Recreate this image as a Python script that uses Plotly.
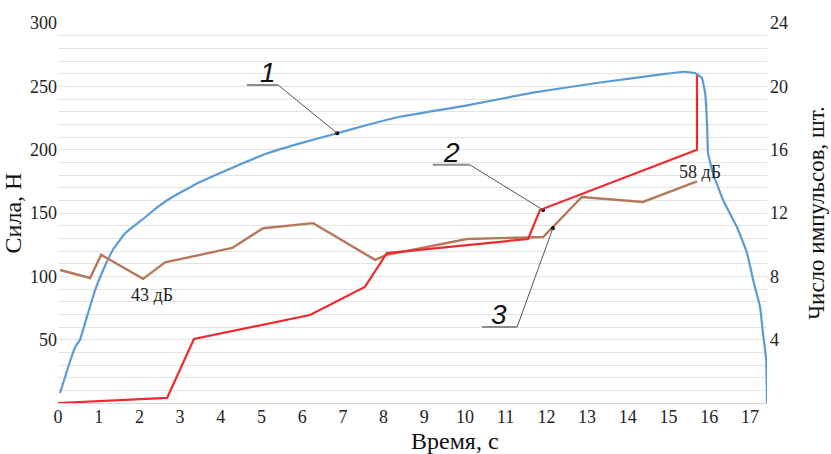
import plotly.graph_objects as go

# ---- data ----
force_t = [0.05, 0.25, 0.42, 0.54, 0.71, 0.91, 1.11, 1.35, 1.65, 2.06, 2.46, 2.83,
           3.49, 4.30, 5.13, 5.95, 6.86, 7.59, 8.40, 10.05, 11.67, 13.32, 14.96,
           15.36, 15.65, 15.82, 15.90, 15.95, 15.97, 16.09, 16.34, 16.68, 16.93,
           17.08, 17.25, 17.32, 17.40, 17.42]
force_n = [7.9, 28.4, 44, 50, 68, 89, 105, 121, 134, 144.5, 155, 163,
           174.5, 186, 197, 205, 213, 219.5, 226, 235, 245, 253, 260,
           261.5, 260.5, 256.6, 244.7, 217.9, 197.4, 181.6, 160.3, 139, 118.4,
           97.1, 75.8, 55.3, 34, 0]

pulses_t = [0.0, 2.68, 3.34, 6.19, 7.54, 8.08, 11.55, 11.84, 15.70, 15.70]
pulses_n = [0, 0.32, 4.04, 5.56, 7.33, 9.47, 10.36, 12.19, 16.0, 20.7]

ampl_t = [0.05, 0.79, 1.06, 2.09, 2.63, 4.28, 5.04, 6.27, 7.79, 8.08, 10.05,
          11.55, 11.92, 12.87, 14.37, 15.70]
ampl_v = [105, 98.7, 117, 98, 111, 122.4, 138, 142, 113, 117, 129.5,
          131, 131, 162.6, 158.7, 175]

x_ticks = list(range(0, 18))
left_ticks = [50, 100, 150, 200, 250, 300]
right_ticks = [4, 8, 12, 16, 20, 24]

# leader callouts: label, text pos, start of shelf, elbow, target point
callouts = [
    ("1", (5.16, 261.3), 4.64, (5.41, 251), (6.86, 213)),
    ("2", (9.66, 198), 9.21, (10.12, 188), (11.92, 152.4)),
    ("3", (10.84, 69.5), 10.42, (11.28, 60), (12.16, 138)),
]
db_labels = [("43 дБ", 2.31, 85.3), ("58 дБ", 15.77, 182.4)]

SERIF = "Liberation Serif, Times New Roman, serif"
GRID = "#e4e4e4"

fig = go.Figure()
fig.add_trace(go.Scatter(x=force_t, y=force_n, mode="lines",
                         line=dict(color="#5B9BD5", width=2.2, shape="spline", smoothing=0.3),
                         showlegend=False, hoverinfo="skip"))
fig.add_trace(go.Scatter(x=ampl_t, y=ampl_v, mode="lines",
                         line=dict(color="#B5785A", width=2.4),
                         showlegend=False, hoverinfo="skip"))
fig.add_trace(go.Scatter(x=pulses_t, y=pulses_n, mode="lines", yaxis="y2",
                         line=dict(color="#EE2A2E", width=2.2),
                         showlegend=False, hoverinfo="skip"))

annotations = []
shapes = []
for lab, (tx, ty), sx, (ex, ey), (px, py) in callouts:
    shapes.append(dict(type="line", xref="x", yref="y", x0=sx, y0=ey, x1=ex, y1=ey,
                       line=dict(color="#8c8c8c", width=2)))
    shapes.append(dict(type="line", xref="x", yref="y", x0=ex, y0=ey, x1=px, y1=py,
                       line=dict(color="#555555", width=1)))
    annotations.append(dict(x=tx, y=ty, xref="x", yref="y", text="<i>" + lab + "</i>",
                            showarrow=False,
                            font=dict(family="Liberation Sans, Arial", size=28, color="#111")))
fig.add_trace(go.Scatter(x=[c[4][0] for c in callouts], y=[c[4][1] for c in callouts],
                         mode="markers", marker=dict(color="#000", size=4),
                         showlegend=False, hoverinfo="skip"))

for txt, x, y in db_labels:
    annotations.append(dict(x=x, y=y, xref="x", yref="y", text=txt, showarrow=False,
                            font=dict(family=SERIF, size=18, color="#222")))

annotations.append(dict(x=0.56, y=0, xref="paper", yref="paper", yshift=-38,
                        text="Время, с", showarrow=False, yanchor="middle",
                        font=dict(family=SERIF, size=24, color="#111")))

fig.update_layout(
    width=831, height=454,
    margin=dict(l=58, r=64, t=23, b=51),
    paper_bgcolor="white", plot_bgcolor="white",
    showlegend=False,
    xaxis=dict(range=[0, 17.42], tickvals=x_ticks, showgrid=False, zeroline=False,
               showline=True, linecolor="#d6d6d6", linewidth=1, ticks="",
               tickfont=dict(family=SERIF, size=18, color="#222"),
               ticklabelstandoff=-3, automargin=False),
    yaxis=dict(range=[0, 300], tickvals=left_ticks, showgrid=True, gridcolor=GRID,
               gridwidth=1, zeroline=False, showline=False, ticks="",
               minor=dict(dtick=10, showgrid=True, gridcolor=GRID, gridwidth=1),
               tickfont=dict(family=SERIF, size=18, color="#222"),
               ticklabelstandoff=0, automargin=False,
               title=dict(text="Сила, Н", font=dict(family=SERIF, size=24, color="#111"),
                          standoff=4)),
    yaxis2=dict(range=[0, 24], tickvals=right_ticks, overlaying="y", side="right",
                showgrid=False, zeroline=False, showline=False, ticks="",
                tickfont=dict(family=SERIF, size=18, color="#222"),
                ticklabelstandoff=2, automargin=False,
                title=dict(text="Число импульсов, шт.",
                           font=dict(family=SERIF, size=23, color="#111"), standoff=20)),
    annotations=annotations,
    shapes=shapes,
)

fig.write_html("out.html", config={"displayModeBar": False},
               post_script="document.body.style.margin='0';document.body.style.overflow='hidden';")
